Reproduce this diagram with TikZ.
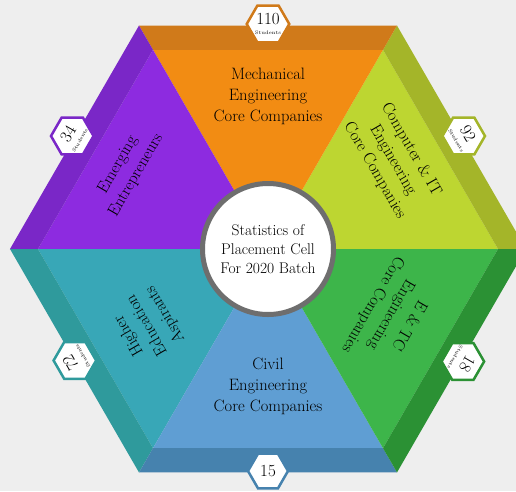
\documentclass[tikz,border=0pt]{standalone}
\usepackage{xcolor}
\usetikzlibrary{shapes.geometric}

\definecolor{paper}{HTML}{EEEEEE}
\definecolor{ringgray}{HTML}{6E6E6E}
\definecolor{mechlight}{HTML}{F28C13}
\definecolor{mechdark}{HTML}{D07A1A}
\definecolor{complight}{HTML}{BDD631}
\definecolor{compdark}{HTML}{A4B529}
\definecolor{entclight}{HTML}{3DB54A}
\definecolor{entcdark}{HTML}{2B9134}
\definecolor{civillight}{HTML}{5F9ED3}
\definecolor{civildark}{HTML}{4682AE}
\definecolor{higherlight}{HTML}{38A7B7}
\definecolor{higherdark}{HTML}{2F9A9C}
\definecolor{entrelight}{HTML}{8D2BE0}
\definecolor{entredark}{HTML}{7A27C7}

\begin{document}
\begin{tikzpicture}[
  x=1pt, y=1pt,
  sector/.style={align=center, inner sep=0pt, font=\fontsize{16.5}{21}\selectfont},
  badge/.style={regular polygon, regular polygon sides=6, minimum size=40pt, inner sep=0pt,
    fill=white, line width=2.5pt, align=center, font=\fontsize{17}{17}\selectfont},
  hub/.style={circle, fill=white, draw=ringgray, line width=5pt, minimum size=131pt,
    align=center, font=\fontsize{15.5}{19}\selectfont}
]
\useasboundingbox (-268,-242) rectangle (248,249);
\clip (-268,-242) rectangle (248,249);
\fill[paper] (-268,-242) rectangle (248,249);

% corners of the outer rim and of the inner faces
\coordinate (o) at (0,0);
\foreach \k in {0,...,5} {
  \coordinate (P\k) at (\k*60:258);
  \coordinate (Q\k) at (\k*60:230);
}

% faces
\fill[complight]  (o) -- (Q0) -- (Q1) -- cycle;
\fill[mechlight]  (o) -- (Q1) -- (Q2) -- cycle;
\fill[entrelight] (o) -- (Q2) -- (Q3) -- cycle;
\fill[higherlight](o) -- (Q3) -- (Q4) -- cycle;
\fill[civillight] (o) -- (Q4) -- (Q5) -- cycle;
\fill[entclight]  (o) -- (Q5) -- (Q0) -- cycle;

% rim
\fill[compdark]   (P0) -- (P1) -- (Q1) -- (Q0) -- cycle;
\fill[mechdark]   (P1) -- (P2) -- (Q2) -- (Q1) -- cycle;
\fill[entredark]  (P2) -- (P3) -- (Q3) -- (Q2) -- cycle;
\fill[higherdark] (P3) -- (P4) -- (Q4) -- (Q3) -- cycle;
\fill[civildark]  (P4) -- (P5) -- (Q5) -- (Q4) -- cycle;
\fill[entcdark]   (P5) -- (P0) -- (Q0) -- (Q5) -- cycle;

% labels of the faces
\node[sector] (mech) at (0,153) {Mechanical\\Engineering\\Core Companies};
\node[sector, rotate=-60] (comp) at (125,89) {Computer \& IT\\Engineering\\Core Companies};
\node[sector, rotate=-120] (entc) at (123,-66) {E \& TC\\Engineering\\Core Companies};
\node[sector] (civil) at (0,-137) {Civil\\Engineering\\Core Companies};
\node[sector, rotate=120] (higher) at (-121,-76) {Higher\\Education\\Aspirants};
\node[sector, rotate=60] (entre) at (-141,79) {Emerging\\Entrepreneurs};

% centre
\node[hub] (stats) at (0,0) {Statistics of\\Placement Cell\\For 2020 Batch};

% counts on the rim
\node[badge, draw=mechdark] (nmech) at (90:225) {110\\[-7pt]{\fontsize{5}{5}\selectfont Students}};
\node[badge, draw=compdark, rotate=-60] (ncomp) at (30:226) {92\\[-7pt]{\fontsize{5}{5}\selectfont Students}};
\node[badge, draw=entcdark, rotate=-120] (nentc) at (-30:225) {18\\[-7pt]{\fontsize{5}{5}\selectfont Students}};
\node[badge, draw=civildark] (ncivil) at (-90:222) {15};
\node[badge, draw=higherdark, rotate=120] (nhigher) at (210:223) {72\\[-7pt]{\fontsize{5}{5}\selectfont Students}};
\node[badge, draw=entredark, rotate=60] (nentre) at (150:226) {34\\[-7pt]{\fontsize{5}{5}\selectfont Students}};

\end{tikzpicture}
\end{document}
